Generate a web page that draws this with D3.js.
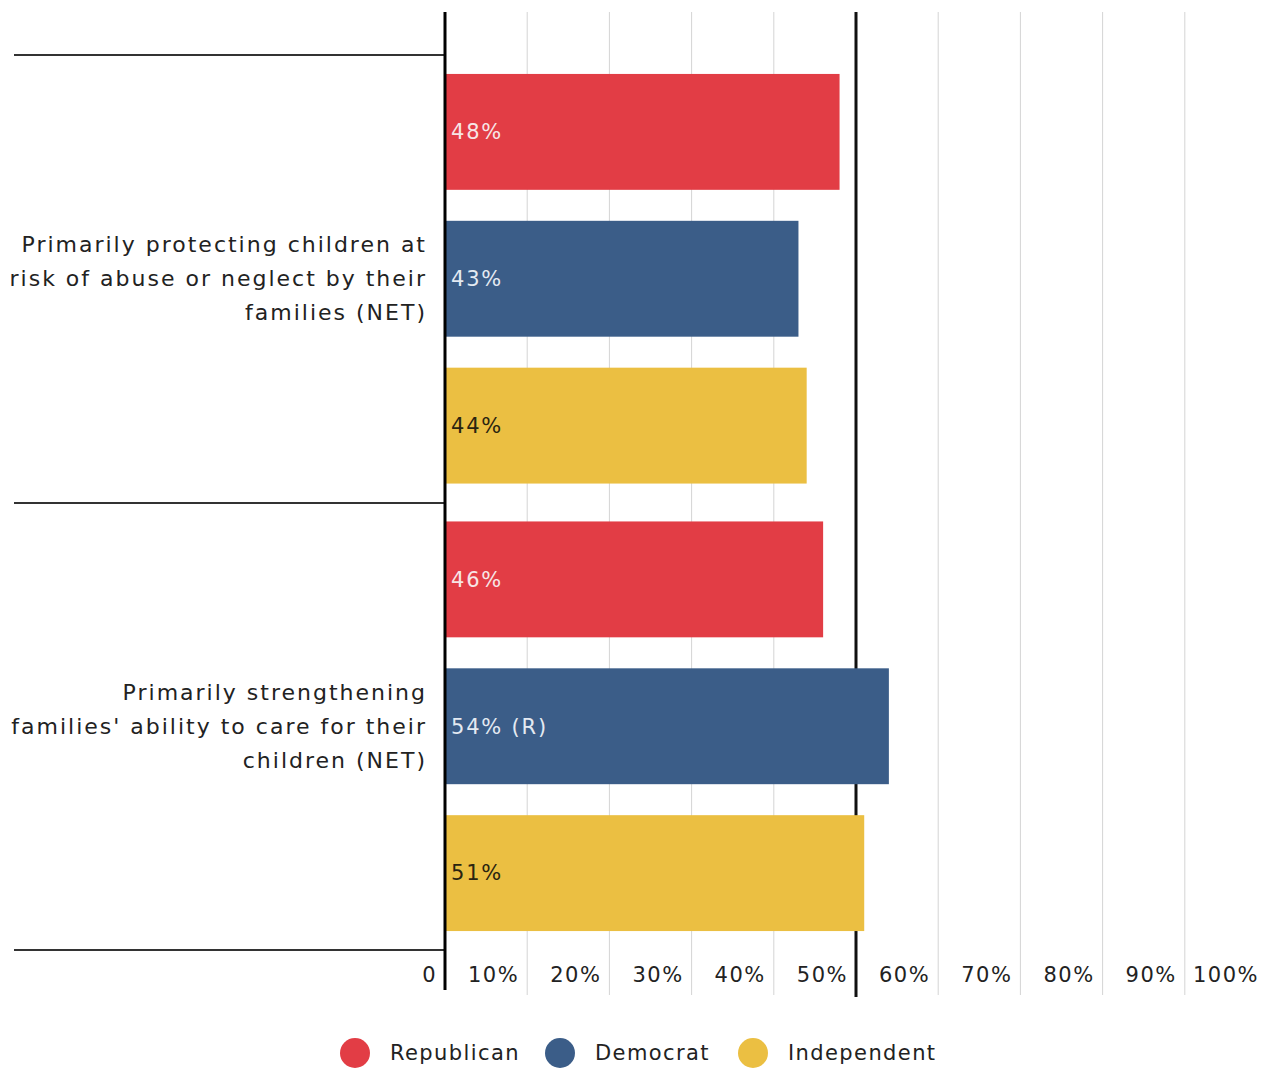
<!DOCTYPE html>
<html>
<head>
<meta charset="utf-8">
<script src="https://cdn.jsdelivr.net/npm/d3@7"></script>
<style>
  html, body { margin: 0; padding: 0; background: #fff; }
  svg { display: block; font-family: "DejaVu Sans", "Noto Sans", sans-serif; }
</style>
</head>
<body>
<svg id="chart" width="1263" height="1068"></svg>
<script>
const categories = [
  ["Primarily protecting children at", "risk of abuse or neglect by their", "families (NET)"],
  ["Primarily strengthening", "families' ability to care for their", "children (NET)"]
];
const seriesNames = ["Republican", "Democrat", "Independent"];
const seriesColors = ["#e23d45", "#3b5d88", "#ebbf42"];
const labelColors = ["#f7e6e6", "#e4eaf2", "#2a2410"];
const republican = [48, 46];
const democrat = [43, 54];
const independent = [44, 51];
const valueLabels = [["48%", "43%", "44%"], ["46%", "54% (R)", "51%"]];
const tickValues = [0, 10, 20, 30, 40, 50, 60, 70, 80, 90, 100];
const tickLabels = ["0", "10%", "20%", "30%", "40%", "50%", "60%", "70%", "80%", "90%", "100%"];

const seriesValues = [republican, democrat, independent];
const svg = d3.select("#chart");

const x = d3.scaleLinear().domain([0, 100]).range([445, 1267]);
const yGroup = d3.scaleBand().domain([0, 1]).range([55, 950]).padding(0);
const yInner = d3.scaleBand().domain([0, 1, 2]).range([0, yGroup.bandwidth()])
  .paddingInner(0.211).paddingOuter(0.129);

const plotTop = 12;

// gridlines
svg.append("g").selectAll("line")
  .data(tickValues.filter(v => v > 0 && v !== 50))
  .join("line")
  .attr("x1", d => x(d)).attr("x2", d => x(d))
  .attr("y1", plotTop).attr("y2", 995)
  .attr("stroke", "#d4d4d4").attr("stroke-width", 1);

// 50% reference line (behind bars)
svg.append("line")
  .attr("x1", x(50)).attr("x2", x(50))
  .attr("y1", plotTop).attr("y2", 997)
  .attr("stroke", "#111").attr("stroke-width", 3);

// bars
const groups = svg.append("g").selectAll("g")
  .data([0, 1]).join("g")
  .attr("transform", g => `translate(0,${yGroup(g)})`);

groups.each(function(g) {
  const sel = d3.select(this);
  seriesValues.forEach((vals, s) => {
    sel.append("rect")
      .attr("x", x(0) + 1)
      .attr("y", yInner(s))
      .attr("width", x(vals[g]) - x(0) - 1)
      .attr("height", yInner.bandwidth())
      .attr("fill", seriesColors[s]);
    sel.append("text")
      .attr("x", x(0) + 6)
      .attr("y", yInner(s) + yInner.bandwidth() / 2)
      .attr("dy", "0.35em")
      .attr("font-size", 21)
      .attr("letter-spacing", 1.8)
      .attr("fill", labelColors[s])
      .text(valueLabels[g][s]);
  });
});

// separators
svg.append("g").selectAll("line")
  .data([55, 503, 950])
  .join("line")
  .attr("x1", 14).attr("x2", x(0))
  .attr("y1", d => d).attr("y2", d => d)
  .attr("stroke", "#333").attr("stroke-width", 2);

// category labels
groups.each(function(g) {
  const c = yGroup.bandwidth() / 2;
  const t = d3.select(this).append("text")
    .attr("text-anchor", "end")
    .attr("font-size", 22)
    .attr("letter-spacing", 2)
    .attr("fill", "#222");
  categories[g].forEach((line, i) => {
    t.append("tspan")
      .attr("x", 427)
      .attr("y", c + (i - 1) * 34)
      .attr("dy", "0.35em")
      .text(line);
  });
});

// axis line
svg.append("line")
  .attr("x1", x(0)).attr("x2", x(0))
  .attr("y1", plotTop).attr("y2", 990)
  .attr("stroke", "#000").attr("stroke-width", 3);

// tick labels
svg.append("g").selectAll("text")
  .data(tickValues)
  .join("text")
  .attr("x", d => x(d) - 8)
  .attr("y", 975)
  .attr("dy", "0.35em")
  .attr("text-anchor", "end")
  .attr("font-size", 21)
  .attr("letter-spacing", 1.5)
  .attr("fill", "#222")
  .text((d, i) => tickLabels[i]);

// legend
const legendX = [355, 560, 753];
const leg = svg.append("g").selectAll("g")
  .data(seriesNames).join("g")
  .attr("transform", (d, i) => `translate(${legendX[i]},1053)`);
leg.append("circle").attr("r", 15).attr("fill", (d, i) => seriesColors[i]);
leg.append("text")
  .attr("x", 35).attr("dy", "0.35em")
  .attr("font-size", 21).attr("letter-spacing", 1.4).attr("fill", "#222")
  .text(d => d);
</script>
</body>
</html>
